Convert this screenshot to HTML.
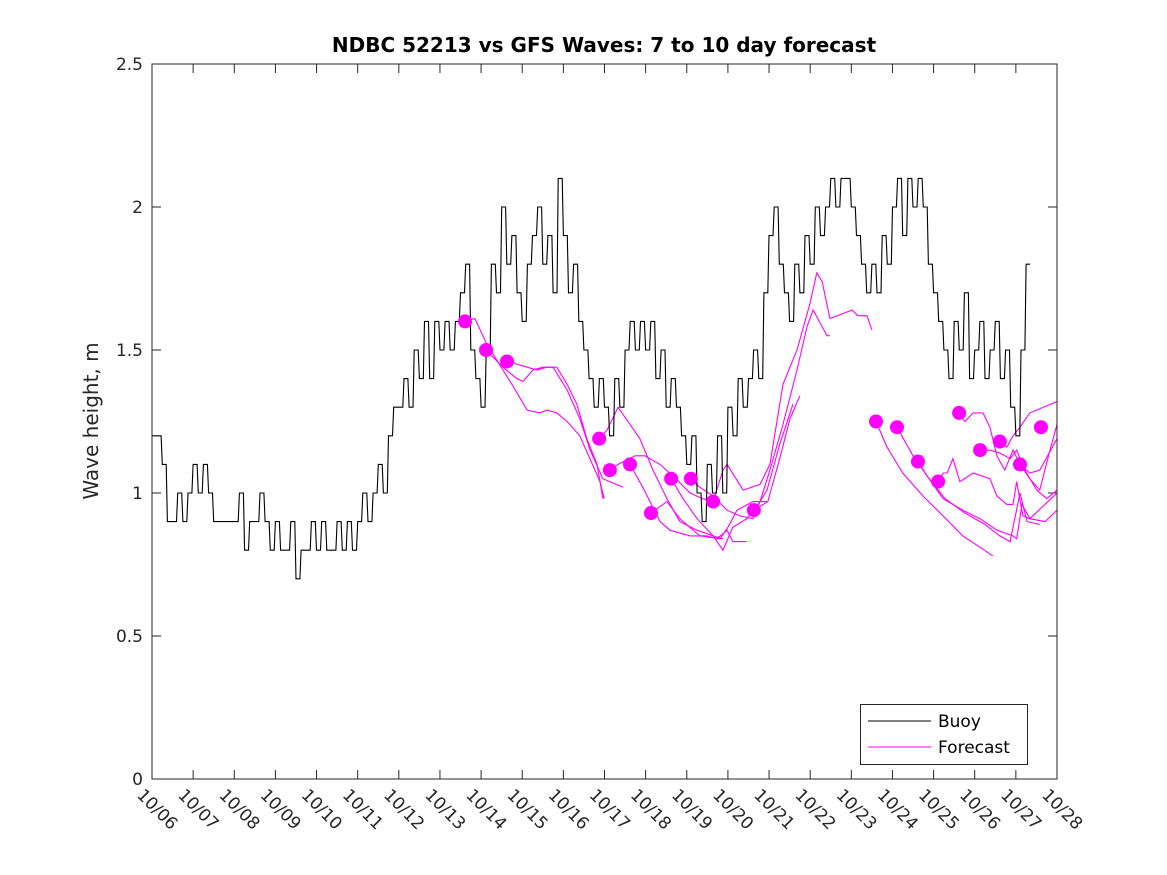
<!DOCTYPE html>
<html><head><meta charset="utf-8"><style>
html,body{margin:0;padding:0;background:#fff;}
svg{display:block;font-family:"DejaVu Sans","Liberation Sans",sans-serif;}
</style></head><body>
<svg id="chart" width="1167" height="875" viewBox="0 0 1167 875">
<rect x="0" y="0" width="1167" height="875" fill="#fff"/>
<text x="604" y="52" text-anchor="middle" font-size="20" font-weight="bold">NDBC 52213 vs GFS Waves: 7 to 10 day forecast</text>
<text transform="translate(98,421) rotate(-90)" text-anchor="middle" font-size="20" fill="#262626">Wave height, m</text>
<defs><clipPath id="plotclip"><rect x="152" y="64" width="905" height="715"/></clipPath></defs>
<g id="grid"></g>
<g id="fc" clip-path="url(#plotclip)"></g>
<g id="buoy" clip-path="url(#plotclip)"></g>
<g id="dots"></g>
<rect x="152" y="64" width="905" height="715" fill="none" stroke="#262626" stroke-width="1"/>
<g>
<rect x="860.5" y="704.5" width="167" height="60" fill="#fff" stroke="#262626"/>
<line x1="868" y1="721" x2="931" y2="721" stroke="#000"/>
<text x="938" y="727" font-size="17">Buoy</text>
<line x1="868" y1="747" x2="931" y2="747" stroke="#f0f"/>
<text x="938" y="753" font-size="17">Forecast</text>
</g>
</svg>
<script>
const xTickLabels = ["10/06","10/07","10/08","10/09","10/10","10/11","10/12","10/13","10/14","10/15","10/16","10/17","10/18","10/19","10/20","10/21","10/22","10/23","10/24","10/25","10/26","10/27","10/28"];
const yTicks = [0,0.5,1,1.5,2,2.5];
const yTickLabels = ["0","0.5","1","1.5","2","2.5"];
const buoyStepDays = 0.125;
const buoyValues = [
1.2,1.2,1.1,0.9,0.9,1.0,0.9,1.0,
1.1,1.0,1.1,1.0,0.9,0.9,0.9,0.9,
0.9,1.0,0.8,0.9,0.9,1.0,0.9,0.8,
0.9,0.8,0.8,0.9,0.7,0.8,0.8,0.9,
0.8,0.9,0.8,0.8,0.9,0.8,0.9,0.8,
0.9,1.0,0.9,1.0,1.1,1.0,1.2,1.3,
1.3,1.4,1.3,1.5,1.4,1.6,1.4,1.6,
1.5,1.6,1.5,1.6,1.7,1.8,1.5,1.4,
1.3,1.5,1.8,1.7,2.0,1.8,1.9,1.7,
1.6,1.8,1.9,2.0,1.8,1.9,1.7,2.1,
1.9,1.7,1.8,1.6,1.5,1.4,1.3,1.4,
1.3,1.2,1.4,1.3,1.5,1.6,1.5,1.6,
1.5,1.6,1.4,1.5,1.3,1.4,1.3,1.2,
1.1,1.2,1.0,0.9,1.1,1.0,1.2,1.0,
1.3,1.2,1.4,1.3,1.4,1.5,1.4,1.7,
1.9,2.0,1.8,1.7,1.6,1.8,1.7,1.9,
1.8,2.0,1.9,2.0,2.1,2.0,2.1,2.1,
2.0,1.9,1.8,1.7,1.8,1.7,1.9,1.8,
2.0,2.1,1.9,2.1,2.0,2.1,2.0,1.8,
1.7,1.6,1.5,1.4,1.6,1.5,1.7,1.4,
1.5,1.6,1.4,1.5,1.6,1.4,1.5,1.3,
1.2,1.5,1.8];
const dotDays = [7.61,8.12,8.63,10.87,11.13,11.62,12.13,12.62,13.10,13.64,14.63,17.60,18.11,18.62,19.11,19.62,20.13,20.61,21.10,21.61];
const dotValues = [1.60,1.50,1.46,1.19,1.08,1.10,0.93,1.05,1.05,0.97,0.94,1.25,1.23,1.11,1.04,1.28,1.15,1.18,1.10,1.23];
const runADays=[7.61,7.85,8.14,8.53,8.75,9.12,9.43,9.60,9.84,10.09,10.40,10.89,10.99];
const runAVals=[1.60,1.61,1.52,1.43,1.38,1.29,1.28,1.29,1.28,1.25,1.20,1.04,0.98];
const runBDays=[8.12,8.53,8.87,9.02,9.26,9.50,9.75,10.09,10.40,10.65,10.96,11.45];
const runBVals=[1.50,1.44,1.40,1.39,1.43,1.44,1.44,1.36,1.26,1.15,1.05,1.02];
const runCDays=[8.63,8.87,9.12,9.36,9.60,9.84,10.09,10.33,10.57,10.82,10.96];
const runCVals=[1.47,1.45,1.44,1.43,1.44,1.44,1.38,1.31,1.19,1.10,0.98];
const runDDays=[10.87,11.06,11.33,11.62,11.86,12.18,12.52,12.83,13.25,13.64,13.88];
const runDVals=[1.19,1.22,1.30,1.24,1.19,1.08,0.98,0.90,0.87,0.85,0.84];
const runEDays=[11.13,11.33,11.74,11.98,12.35,12.66,13.08,13.39,13.64];
const runEVals=[1.08,1.10,1.13,1.13,1.10,1.06,1.00,0.98,0.97];
const runFDays=[11.62,11.93,12.35,12.59,13.08,13.49,13.73,13.98,14.12,14.46];
const runFVals=[1.10,1.02,0.90,0.87,0.85,0.85,0.84,0.87,0.83,0.83];
const runGDays=[12.13,12.52,12.83,13.32,13.81,14.00,14.22,14.61,14.95];
const runGVals=[0.93,0.97,0.91,0.85,0.84,0.88,0.94,0.97,0.97];
const runHDays=[12.62,12.91,13.25,13.64,13.88,14.12,14.46,14.78,14.95,15.26,15.58];
const runHVals=[1.05,0.98,0.91,0.85,0.80,0.88,0.91,0.97,1.01,1.17,1.31];
const runIDays=[13.10,13.32,13.64,13.98,14.29,14.61,14.78,15.02,15.34,15.68,15.92,16.07,16.41,16.48];
const runIVals=[1.05,1.02,0.99,0.94,0.92,0.91,0.97,1.08,1.24,1.43,1.58,1.64,1.55,1.55];
const runJDays=[13.64,13.88,13.98,14.37,14.78,15.02,15.34,15.68,15.99,16.16,16.29,16.48,17.02,17.16,17.38,17.50];
const runJVals=[0.97,1.08,1.10,1.01,1.03,1.10,1.38,1.50,1.66,1.77,1.74,1.61,1.64,1.62,1.62,1.57];
const runKDays=[14.63,14.97,15.26,15.51,15.75];
const runKVals=[0.94,0.97,1.12,1.26,1.34];
const runLDays=[17.60,17.87,18.25,18.74,19.23,19.71,20.13,20.44];
const runLVals=[1.25,1.16,1.07,0.99,0.92,0.85,0.81,0.78];
const runMDays=[18.11,18.50,18.84,19.28,19.76,20.25,20.61,20.86,21.10,21.27,21.58];
const runMVals=[1.23,1.13,1.06,0.98,0.93,0.89,0.85,0.83,1.00,0.90,0.89];
const runNDays=[18.62,18.84,19.23,19.71,20.13,20.54,20.93,21.02,21.15,21.34,21.71,22.0];
const runNVals=[1.11,1.06,0.98,0.94,0.91,0.87,0.85,0.84,0.96,0.91,0.90,0.94];
const runODays=[19.11,19.23,19.33,19.47,19.64,19.96,20.37,20.54,20.78,20.93,21.02,21.17,21.34,22.0];
const runOVals=[1.04,1.07,1.07,1.12,1.04,1.07,1.05,0.99,0.96,0.96,1.04,0.92,0.91,1.00];
const runPDays=[19.62,19.76,19.96,20.20,20.37,20.54,20.73,20.93,21.10,21.34,21.58,22.0];
const runPVals=[1.28,1.25,1.28,1.28,1.23,1.13,1.08,1.15,1.10,1.07,1.08,1.19];
const runQDays=[20.13,20.37,20.61,20.86,21.02,21.22,21.51,21.75,22.0];
const runQVals=[1.15,1.15,1.14,1.12,1.15,1.08,1.01,0.98,1.01];
const runRDays=[20.61,20.78,20.93,21.10,21.34,22.0];
const runRVals=[1.18,1.16,1.20,1.23,1.28,1.32];
const runTDays=[21.10,21.34,21.58,21.83,22.0];
const runTVals=[1.10,1.05,1.01,1.15,1.24];

const NS="http://www.w3.org/2000/svg";
const X0=152,X1=1057,Y0=779,Y1=64,NDAYS=22,YMAX=2.5;
function xs(d){return X0+(X1-X0)*d/NDAYS;}
function ys(v){return Y0-(Y0-Y1)*v/YMAX;}
function mk(tag,attrs,parent){const e=document.createElementNS(NS,tag);for(const k in attrs)e.setAttribute(k,attrs[k]);parent.appendChild(e);return e;}

const grid=document.getElementById('grid');
xTickLabels.forEach((lab,i)=>{
  const x=xs(i);
  const t1=mk('line',{x1:x,y1:Y0,x2:x,y2:Y0-9,stroke:'#262626'},grid);
  
  
  const t2=mk('line',{x1:x,y1:Y1,x2:x,y2:Y1+9,stroke:'#262626'},grid);
  
  
  const tx=mk('text',{x:0,y:0,'font-size':'17',fill:'#262626',transform:`translate(${x-16},${Y0+17}) rotate(45)`},grid);
  tx.textContent=lab;
  
  
});
yTicks.forEach((v,i)=>{
  const y=ys(v);
  const t1=mk('line',{x1:X0,y1:y,x2:X0+9,y2:y,stroke:'#262626'},grid);
  
  
  const t2=mk('line',{x1:X1,y1:y,x2:X1-9,y2:y,stroke:'#262626'},grid);
  
  
  const tx=mk('text',{x:X0-9,y:y+6,'font-size':'17','text-anchor':'end',fill:'#262626'},grid);
  tx.textContent=yTickLabels[i];
  
  
});

const fc=document.getElementById('fc');
const runs=[[runADays,runAVals],[runBDays,runBVals],[runCDays,runCVals],[runDDays,runDVals],[runEDays,runEVals],[runFDays,runFVals],[runGDays,runGVals],[runHDays,runHVals],[runIDays,runIVals],[runJDays,runJVals],[runKDays,runKVals],[runLDays,runLVals],[runMDays,runMVals],[runNDays,runNVals],[runODays,runOVals],[runPDays,runPVals],[runQDays,runQVals],[runRDays,runRVals],[runTDays,runTVals]];
runs.forEach(r=>{
  const pts=r[0].map((d,i)=>xs(d).toFixed(1)+','+ys(r[1][i]).toFixed(1)).join(' ');
  const p=mk('polyline',{points:pts,fill:'none',stroke:'#f0f','stroke-width':'1.1'},fc);
  
  
});

const bg=document.getElementById('buoy');
const bp=[];
buoyValues.forEach((v,i)=>{
  const xa=xs(i*buoyStepDays), xb=xs((i+1)*buoyStepDays), y=ys(v);
  bp.push(xa.toFixed(1)+','+y.toFixed(1));
  bp.push((xb-1.2).toFixed(1)+','+y.toFixed(1));
});
const bl=mk('polyline',{points:bp.join(' '),fill:'none',stroke:'#000','stroke-width':'1.1'},bg);



const dg=document.getElementById('dots');
dotDays.forEach((d,i)=>{
  const c=mk('circle',{cx:xs(d),cy:ys(dotValues[i]),r:7,fill:'#f0f'},dg);
  
  
});
</script>
</body></html>
